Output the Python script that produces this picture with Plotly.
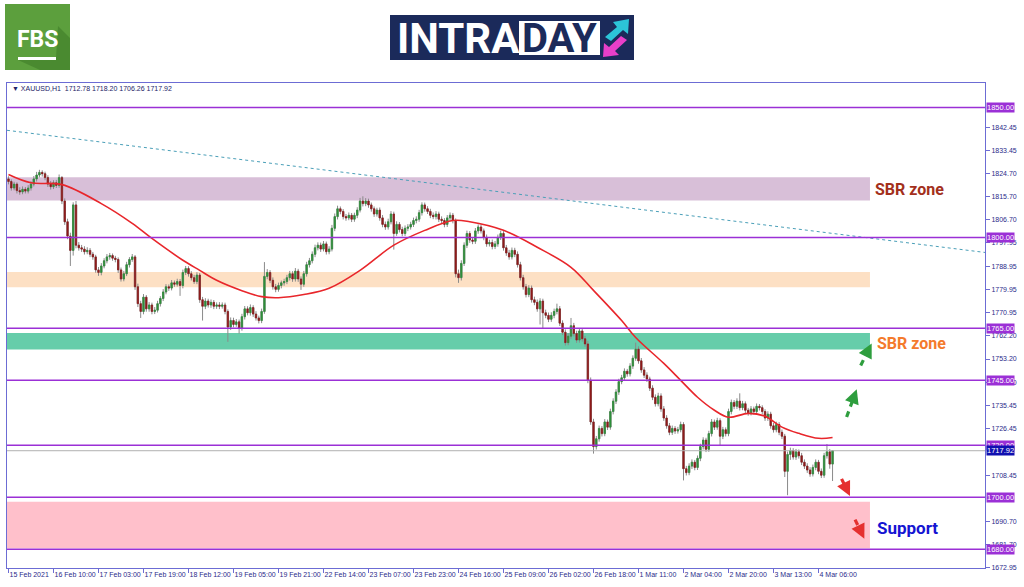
import plotly.graph_objects as go

# ---------------- data ----------------
o = [1822.5,1821.5,1819.0,1820.5,1818.0,1817.5,1818.5,1817.8,1819.0,1820.5,
     1822.5,1824.0,1825.0,1824.5,1823.0,1820.5,1819.5,1821.0,1820.0,1823.0,
     1814.0,1806.0,1800.5,1795.0,1812.5,1797.0,1796.0,1795.5,1794.5,1795.0,
     1793.5,1792.5,1787.5,1786.5,1789.0,1791.0,1792.5,1793.0,1792.0,1791.5,
     1787.5,1784.0,1786.0,1789.5,1791.5,1792.5,1781.0,1774.5,1771.5,1777.0,
     1772.5,1774.0,1771.5,1772.0,1774.5,1776.5,1779.0,1781.0,1780.5,1782.5,
     1782.0,1783.0,1781.5,1786.5,1788.0,1786.0,1784.5,1783.0,1785.5,1776.0,
     1773.5,1775.5,1774.0,1775.0,1773.5,1774.0,1773.5,1774.0,1771.5,1765.5,
     1768.0,1766.5,1767.5,1765.0,1769.5,1772.5,1771.0,1773.0,1770.5,1769.0,
     1768.0,1771.5,1785.0,1786.5,1783.5,1781.0,1780.0,1781.5,1782.5,1783.0,
     1784.5,1786.0,1784.0,1787.0,1784.0,1782.0,1786.0,1789.5,1791.0,1793.5,
     1796.0,1797.0,1795.5,1797.5,1794.5,1795.5,1803.5,1808.0,1811.0,1810.0,
     1808.0,1807.5,1808.5,1807.0,1808.5,1810.5,1814.0,1813.0,1814.0,1812.5,
     1811.0,1809.0,1810.5,1807.5,1805.0,1804.0,1806.0,1809.0,1801.5,1805.0,
     1803.0,1801.5,1803.5,1804.0,1805.0,1806.5,1807.0,1809.5,1812.5,1811.0,
     1810.0,1808.5,1808.0,1809.0,1807.0,1806.5,1805.0,1807.5,1808.5,1806.5,
     1786.0,1784.5,1790.0,1797.0,1801.5,1799.0,1798.5,1802.5,1804.0,1802.5,
     1800.0,1797.5,1798.0,1796.5,1797.5,1800.0,1801.5,1796.0,1794.0,1792.5,
     1795.0,1793.5,1789.5,1784.5,1781.0,1778.0,1780.5,1776.0,1775.0,1772.5,
     1775.5,1771.0,1770.0,1768.5,1770.0,1771.5,1772.5,1767.0,1763.5,1759.5,
     1762.0,1766.0,1763.0,1760.5,1764.0,1761.0,1759.0,1745.0,1729.0,1719.5,
     1722.5,1726.5,1724.5,1729.0,1727.0,1733.0,1737.0,1740.5,1744.5,1746.0,
     1748.5,1747.5,1750.5,1753.5,1757.0,1752.5,1749.0,1747.0,1745.5,1742.0,
     1738.5,1736.0,1739.0,1734.0,1730.5,1727.5,1725.0,1726.5,1725.5,1726.0,
     1728.0,1711.0,1709.5,1712.0,1713.5,1711.5,1715.0,1719.5,1722.0,1718.5,
     1724.5,1729.0,1727.0,1729.5,1723.5,1726.0,1724.5,1733.0,1736.5,1735.0,
     1737.0,1734.5,1736.0,1733.5,1732.5,1734.0,1733.0,1735.0,1734.5,1733.0,
     1730.5,1732.0,1727.5,1726.0,1728.0,1725.0,1723.5,1710.0,1716.5,1718.0,
     1715.5,1717.5,1716.0,1713.5,1712.0,1710.5,1709.0,1711.5,1713.5,1710.0,
     1708.5,1716.0,1717.5,1712.78]

h = [1823.5,1822.3,1821.4,1821.2,1819.3,1819.6,1819.4,1820.1,1821.6,1823.6,
     1825.2,1826.0,1825.8,1825.3,1823.9,1821.7,1822.0,1822.1,1824.2,1823.6,
     1815.0,1807.2,1801.8,1813.5,1814.0,1798.2,1797.1,1796.6,1796.2,1795.9,
     1794.4,1793.3,1788.6,1790.1,1792.0,1793.6,1794.0,1793.8,1792.9,1792.3,
     1788.4,1787.1,1790.6,1792.4,1793.6,1793.2,1782.2,1775.6,1778.2,1777.8,
     1775.1,1774.9,1773.2,1775.6,1777.4,1780.1,1782.0,1781.9,1783.6,1783.4,
     1784.1,1784.0,1787.6,1789.0,1788.9,1787.0,1785.6,1786.6,1786.3,1777.1,
     1776.6,1776.4,1776.1,1775.9,1775.0,1775.1,1775.0,1774.9,1772.3,1769.2,
     1769.1,1768.6,1768.4,1770.6,1773.6,1773.5,1774.2,1773.9,1771.6,1769.9,
     1772.6,1790.5,1787.8,1787.4,1784.6,1782.1,1782.6,1783.4,1784.1,1785.6,
     1787.1,1787.0,1788.2,1787.9,1785.0,1787.1,1790.6,1792.1,1794.6,1797.2,
     1798.1,1798.0,1798.6,1798.4,1796.6,1804.8,1809.2,1812.2,1811.9,1810.9,
     1809.0,1809.6,1809.4,1809.5,1811.6,1815.2,1815.8,1815.1,1814.9,1813.4,
     1811.9,1811.4,1811.5,1808.6,1806.1,1807.2,1810.1,1809.9,1806.2,1805.9,
     1804.1,1804.6,1805.1,1806.0,1807.6,1808.1,1810.6,1813.5,1813.4,1812.0,
     1811.0,1809.6,1810.1,1809.9,1808.1,1807.4,1808.6,1809.6,1809.4,1807.3,
     1787.6,1791.2,1798.1,1802.6,1802.4,1800.1,1803.6,1805.0,1805.0,1803.4,
     1801.1,1799.1,1799.2,1798.6,1801.1,1802.6,1802.4,1797.1,1795.2,1796.1,
     1796.0,1794.6,1790.6,1785.6,1782.1,1781.6,1781.5,1777.2,1776.1,1776.6,
     1776.4,1772.2,1771.1,1771.2,1772.6,1774.5,1773.6,1768.1,1764.6,1763.1,
     1769.0,1767.1,1764.1,1765.1,1765.0,1762.1,1760.2,1746.1,1730.2,1723.6,
     1727.6,1727.4,1730.1,1729.9,1734.1,1738.1,1741.6,1745.6,1747.1,1749.6,
     1749.4,1751.6,1754.6,1759.5,1758.1,1753.6,1750.1,1748.1,1746.4,1743.1,
     1739.6,1740.2,1740.0,1735.1,1731.6,1728.6,1727.6,1727.4,1727.1,1729.1,
     1728.9,1712.1,1713.1,1714.6,1714.4,1716.1,1720.6,1723.1,1722.9,1725.6,
     1730.1,1729.9,1730.6,1730.4,1727.1,1726.9,1734.1,1737.6,1737.4,1738.1,
     1740.0,1737.1,1736.9,1734.4,1735.1,1734.9,1736.1,1735.9,1735.4,1733.9,
     1733.1,1732.9,1728.6,1729.1,1728.9,1726.1,1724.4,1717.6,1719.1,1718.9,
     1718.6,1718.4,1717.1,1714.6,1713.1,1711.6,1712.6,1714.6,1714.4,1711.1,
     1717.1,1720.5,1718.6,1718.20]

l = [1820.4,1818.0,1818.1,1816.9,1816.4,1816.6,1816.9,1816.9,1818.0,1819.6,
     1821.5,1823.1,1823.4,1822.0,1819.4,1818.4,1818.6,1819.0,1819.1,1812.8,
     1804.8,1799.3,1789.0,1793.0,1795.8,1794.9,1794.4,1793.4,1793.5,1792.4,
     1791.4,1786.4,1785.2,1785.4,1788.1,1790.0,1791.4,1791.0,1790.4,1786.3,
     1783.0,1783.1,1785.1,1788.4,1790.6,1779.8,1773.2,1769.0,1770.4,1771.4,
     1771.4,1770.4,1770.5,1771.1,1773.4,1775.5,1778.1,1779.4,1779.6,1781.0,
     1781.1,1777.5,1780.4,1785.5,1784.9,1783.4,1782.1,1782.0,1774.8,1768.0,
     1772.4,1773.0,1772.9,1772.4,1772.5,1772.4,1772.6,1770.4,1759.8,1764.4,
     1765.4,1765.6,1763.0,1764.1,1768.4,1770.0,1769.9,1769.4,1768.0,1766.9,
     1767.0,1770.6,1783.9,1782.4,1779.9,1778.9,1779.1,1780.4,1781.4,1782.0,
     1783.4,1782.9,1783.0,1782.9,1779.8,1781.0,1784.9,1788.4,1790.0,1792.4,
     1795.0,1794.4,1794.6,1793.4,1793.5,1794.6,1802.4,1806.9,1808.9,1806.9,
     1806.4,1806.6,1805.9,1806.0,1807.4,1809.6,1811.9,1812.0,1811.4,1809.9,
     1807.9,1808.0,1806.4,1803.9,1802.9,1803.0,1805.0,1795.3,1800.6,1801.9,
     1800.4,1800.5,1802.4,1803.0,1804.0,1805.4,1806.0,1808.4,1809.9,1809.0,
     1807.4,1807.0,1806.9,1805.9,1805.4,1803.9,1804.0,1806.4,1805.4,1784.6,
     1782.5,1783.4,1789.0,1795.9,1797.9,1797.4,1797.5,1801.4,1801.5,1798.9,
     1796.4,1796.5,1795.4,1795.5,1796.4,1799.0,1794.9,1792.9,1791.4,1791.5,
     1792.4,1788.4,1783.4,1779.9,1776.9,1777.0,1774.9,1773.9,1771.4,1766.5,
     1765.0,1768.9,1767.4,1767.5,1768.9,1770.4,1765.9,1762.4,1758.4,1758.5,
     1761.0,1761.9,1759.4,1759.5,1759.9,1757.9,1743.9,1727.9,1716.8,1718.4,
     1721.4,1723.4,1723.5,1725.9,1726.0,1731.9,1735.9,1739.4,1743.5,1745.0,
     1746.4,1746.5,1749.4,1752.5,1751.4,1747.9,1745.9,1744.4,1740.9,1737.4,
     1734.9,1735.0,1732.9,1729.4,1726.4,1723.9,1724.0,1724.4,1724.5,1725.0,
     1706.5,1708.4,1708.5,1710.9,1710.4,1710.5,1713.9,1718.4,1717.4,1717.5,
     1723.4,1725.9,1726.0,1720.0,1722.4,1723.4,1723.5,1731.9,1733.9,1734.0,
     1733.4,1733.5,1732.4,1731.4,1731.5,1731.9,1732.0,1733.4,1731.9,1729.4,
     1729.4,1726.4,1724.9,1725.0,1723.9,1722.4,1707.8,1700.8,1714.4,1714.5,
     1714.4,1714.9,1712.4,1710.9,1709.4,1707.9,1708.0,1710.4,1708.9,1707.4,
     1707.5,1714.9,1711.0,1706.26]

c = [1821.5,1819.0,1820.5,1818.0,1817.5,1818.5,1817.8,1819.0,1820.5,1822.5,
     1824.0,1825.0,1824.5,1823.0,1820.5,1819.5,1821.0,1820.0,1823.0,1814.0,
     1806.0,1800.5,1795.0,1812.5,1797.0,1796.0,1795.5,1794.5,1795.0,1793.5,
     1792.5,1787.5,1786.5,1789.0,1791.0,1792.5,1793.0,1792.0,1791.5,1787.5,
     1784.0,1786.0,1789.5,1791.5,1792.5,1781.0,1774.5,1771.5,1777.0,1772.5,
     1774.0,1771.5,1772.0,1774.5,1776.5,1779.0,1781.0,1780.5,1782.5,1782.0,
     1783.0,1781.5,1786.5,1788.0,1786.0,1784.5,1783.0,1785.5,1776.0,1773.5,
     1775.5,1774.0,1775.0,1773.5,1774.0,1773.5,1774.0,1771.5,1765.5,1768.0,
     1766.5,1767.5,1765.0,1769.5,1772.5,1771.0,1773.0,1770.5,1769.0,1768.0,
     1771.5,1785.0,1786.5,1783.5,1781.0,1780.0,1781.5,1782.5,1783.0,1784.5,
     1786.0,1784.0,1787.0,1784.0,1782.0,1786.0,1789.5,1791.0,1793.5,1796.0,
     1797.0,1795.5,1797.5,1794.5,1795.5,1803.5,1808.0,1811.0,1810.0,1808.0,
     1807.5,1808.5,1807.0,1808.5,1810.5,1814.0,1813.0,1814.0,1812.5,1811.0,
     1809.0,1810.5,1807.5,1805.0,1804.0,1806.0,1809.0,1801.5,1805.0,1803.0,
     1801.5,1803.5,1804.0,1805.0,1806.5,1807.0,1809.5,1812.5,1811.0,1810.0,
     1808.5,1808.0,1809.0,1807.0,1806.5,1805.0,1807.5,1808.5,1806.5,1786.0,
     1784.5,1790.0,1797.0,1801.5,1799.0,1798.5,1802.5,1804.0,1802.5,1800.0,
     1797.5,1798.0,1796.5,1797.5,1800.0,1801.5,1796.0,1794.0,1792.5,1795.0,
     1793.5,1789.5,1784.5,1781.0,1778.0,1780.5,1776.0,1775.0,1772.5,1775.5,
     1771.0,1770.0,1768.5,1770.0,1771.5,1772.5,1767.0,1763.5,1759.5,1762.0,
     1766.0,1763.0,1760.5,1764.0,1761.0,1759.0,1745.0,1729.0,1719.5,1722.5,
     1726.5,1724.5,1729.0,1727.0,1733.0,1737.0,1740.5,1744.5,1746.0,1748.5,
     1747.5,1750.5,1753.5,1757.0,1752.5,1749.0,1747.0,1745.5,1742.0,1738.5,
     1736.0,1739.0,1734.0,1730.5,1727.5,1725.0,1726.5,1725.5,1726.0,1728.0,
     1711.0,1709.5,1712.0,1713.5,1711.5,1715.0,1719.5,1722.0,1718.5,1724.5,
     1729.0,1727.0,1729.5,1723.5,1726.0,1724.5,1733.0,1736.5,1735.0,1737.0,
     1734.5,1736.0,1733.5,1732.5,1734.0,1733.0,1735.0,1734.5,1733.0,1730.5,
     1732.0,1727.5,1726.0,1728.0,1725.0,1723.5,1710.0,1716.5,1718.0,1715.5,
     1717.5,1716.0,1713.5,1712.0,1710.5,1709.0,1711.5,1713.5,1710.0,1708.5,
     1716.0,1717.5,1712.78,1717.92]

bar_index = list(range(len(c)))

# moving average (red line) at a few bars
ma_x = [0, 8, 19, 33, 44, 51, 62, 68, 74, 83, 90, 96, 105, 114, 125, 137, 148, 158,
        164, 176, 188, 200, 208, 218, 223, 233, 239, 245, 251, 256, 263, 269, 275,
        281, 288, 293]
ma_y = [1824.2, 1821.0, 1820.3, 1813.0, 1805.4, 1799.6, 1791.2, 1787.3, 1783.5,
        1779.5, 1777.2, 1776.8, 1778.0, 1780.4, 1787.3, 1797.0, 1802.7, 1806.5,
        1806.0, 1802.7, 1796.2, 1788.5, 1779.6, 1768.0, 1761.5, 1751.5, 1745.0,
        1738.5, 1733.5, 1730.8, 1732.3, 1731.2, 1727.0, 1724.6, 1722.7, 1723.0]

# dotted trend line (start / end)
trend_x = [-0.53, 347.2]
trend_y = [1841.2, 1794.2]

x_tick_pos = [0, 16, 32, 48, 64, 80, 96, 112, 128, 144, 160, 176, 192, 208, 224,
              240, 256, 272, 288]
x_tick_text = ['15 Feb 2021', '16 Feb 10:00', '17 Feb 03:00', '17 Feb 19:00',
               '18 Feb 12:00', '19 Feb 05:00', '19 Feb 21:00', '22 Feb 14:00',
               '23 Feb 07:00', '23 Feb 23:00', '24 Feb 16:00', '25 Feb 09:00',
               '26 Feb 02:00', '26 Feb 18:00', '1 Mar 11:00', '2 Mar 04:00',
               '2 Mar 20:00', '3 Mar 13:00', '4 Mar 06:00']

# axis prices that are visible in the picture (the ones fully covered by level tags are left out)
y_tick_vals = [1842.45, 1833.45, 1824.70, 1815.70, 1806.70, 1797.95, 1788.95,
               1779.95, 1770.95, 1762.20, 1753.20, 1744.20, 1735.45, 1726.45,
               1708.45, 1690.70, 1681.70, 1672.95]

levels = [1850.00, 1800.00, 1765.00, 1745.00, 1720.00, 1700.00, 1680.00]
last_price = 1717.92

zone_low = [1814.2, 1780.8, 1756.9, 1680.4]
zone_high = [1823.1, 1786.7, 1763.2, 1698.3]
zone_color = ['#d8bfd8', '#fde0c4', '#66cdaa', '#ffc0cb']

label_text = ['SBR zone', 'SBR zone', 'Support']
label_x = [307.4, 308.1, 308.1]
label_y = [1818.5, 1759.2, 1688.1]
label_color = ['#a3301c', '#f47a2c', '#1414d2']

arrow_tail = [(298.0, 1730.9), (303.0, 1750.7), (296.2, 1707.1), (301.0, 1691.4)]
arrow_tip = [(301.6, 1741.6), (306.9, 1759.2), (299.2, 1700.5), (304.3, 1684.1)]
arrow_color = ['#2e9e3e', '#2e9e3e', '#e53030', '#e53030']

# ---------------- figure ----------------
X_RANGE = [-0.53, 347.2]
Y_RANGE = [1672.8, 1859.4]
ML, MR, MT, MB = 7, 39, 83, 19
W, H = 1024, 587
PW, PH = W - ML - MR, H - MT - MB


def px(xp):
    return (xp - ML) / PW


def py(yp):
    return (H - MB - yp) / PH


AXC = '#6c6cd4'
TXT = '#2b2b8a'
PURPLE = '#9b30d6'

fig = go.Figure()

# wicks (gray)
fig.add_trace(go.Candlestick(
    x=bar_index, open=o, high=h, low=l, close=c,
    increasing=dict(line=dict(color='#8a8a8a', width=1), fillcolor='#8a8a8a'),
    decreasing=dict(line=dict(color='#8a8a8a', width=1), fillcolor='#8a8a8a'),
    whiskerwidth=0, showlegend=False, hoverinfo='skip'))

# bodies (coloured)
body_hi = [max(a, b) for a, b in zip(o, c)]
body_lo = [min(a, b) for a, b in zip(o, c)]
fig.add_trace(go.Candlestick(
    x=bar_index, open=o, high=body_hi, low=body_lo, close=c,
    increasing=dict(line=dict(color='#2f8f3a', width=0.6), fillcolor='#2f8f3a'),
    decreasing=dict(line=dict(color='#8e1b1b', width=0.6), fillcolor='#8e1b1b'),
    whiskerwidth=0, showlegend=False))

# moving average
fig.add_trace(go.Scatter(x=ma_x, y=ma_y, mode='lines',
                         line=dict(color='#e8262b', width=1.6, shape='spline', smoothing=1.0),
                         showlegend=False, hoverinfo='skip'))

# trend line
fig.add_trace(go.Scatter(x=trend_x, y=trend_y, mode='lines',
                         line=dict(color='#4a9fb8', width=1, dash='dot'),
                         showlegend=False, hoverinfo='skip'))

shapes = []
# zones
for lo, hi, col in zip(zone_low, zone_high, zone_color):
    shapes.append(dict(type='rect', xref='x', yref='y', x0=X_RANGE[0], x1=306.3,
                       y0=lo, y1=hi, fillcolor=col, line=dict(width=0), layer='below'))
# level lines
for v in levels:
    shapes.append(dict(type='line', xref='paper', yref='y', x0=0, x1=1, y0=v, y1=v,
                       line=dict(color=PURPLE, width=1.5)))
shapes.append(dict(type='line', xref='paper', yref='y', x0=0, x1=1,
                   y0=last_price, y1=last_price, line=dict(color='#b0b0b0', width=1)))

annotations = []
# dashed arrows
for (tx, ty), (hx, hy), col in zip(arrow_tail, arrow_tip, arrow_color):
    mx = tx + 0.72 * (hx - tx)
    my = ty + 0.72 * (hy - ty)
    shapes.append(dict(type='line', xref='x', yref='y', x0=tx, y0=ty, x1=mx, y1=my,
                       line=dict(color=col, width=3.2, dash='6px,5px')))
    annotations.append(dict(x=hx, y=hy, xref='x', yref='y', axref='x', ayref='y',
                            ax=tx + 0.62 * (hx - tx), ay=ty + 0.62 * (hy - ty),
                            showarrow=True, arrowhead=2, arrowsize=1.2, arrowwidth=2.4,
                            arrowcolor=col, text=''))

# zone labels
for t, xx, yy, col in zip(label_text, label_x, label_y, label_color):
    annotations.append(dict(x=xx, y=yy, xref='x', yref='y', text=t, showarrow=False,
                            xanchor='left', yanchor='middle',
                            font=dict(family='Roboto', size=16 if t != 'Support' else 17,
                                      color=col, weight='bold')))

# level price labels on the axis
for v in levels:
    annotations.append(dict(x=1, y=v, xref='paper', yref='y', text=f'{v:.2f}',
                            showarrow=False, xanchor='left', yanchor='middle', xshift=1,
                            bgcolor=PURPLE, borderpad=0,
                            font=dict(family='Liberation Sans', size=7.5, color='white')))
annotations.append(dict(x=1, y=last_price, xref='paper', yref='y', text=f'{last_price:.2f}',
                        showarrow=False, xanchor='left', yanchor='middle', xshift=1,
                        bgcolor='#1010b0', borderpad=0,
                        font=dict(family='Liberation Sans', size=7.5, color='white')))

# chart title
annotations.append(dict(x=px(10), y=py(89), xref='paper', yref='paper', showarrow=False,
                        xanchor='left', yanchor='middle',
                        text='▼ XAUUSD,H1  1712.78 1718.20 1706.26 1717.92',
                        font=dict(family='Liberation Sans', size=7, color='#222266')))

# ---- header logos ----
# FBS
shapes.append(dict(type='rect', xref='paper', yref='paper', x0=px(5), x1=px(70),
                   y0=py(70), y1=py(4), fillcolor='#5c9f3d', line=dict(width=0)))
shapes.append(dict(type='path', xref='paper', yref='paper',
                   path=f'M {px(58)} {py(26)} L {px(70)} {py(38)} L {px(70)} {py(70)} '
                        f'L {px(40)} {py(70)} L {px(18)} {py(60)} L {px(56)} {py(58)} Z',
                   fillcolor='#4a8a30', line=dict(width=0)))
shapes.append(dict(type='rect', xref='paper', yref='paper', x0=px(18), x1=px(56),
                   y0=py(60), y1=py(57), fillcolor='white', line=dict(width=0)))
annotations.append(dict(x=px(37), y=py(39), xref='paper', yref='paper', text='FBS',
                        showarrow=False, xanchor='center', yanchor='middle',
                        font=dict(family='Roboto', size=23, color='white', weight='bold')))
# INTRADAY
shapes.append(dict(type='rect', xref='paper', yref='paper', x0=px(390), x1=px(634),
                   y0=py(60), y1=py(15), fillcolor='#1b2a5a', line=dict(width=0)))
shapes.append(dict(type='rect', xref='paper', yref='paper', x0=px(519), x1=px(600),
                   y0=py(55), y1=py(21), fillcolor='white', line=dict(width=0)))
annotations.append(dict(x=px(458), y=py(38.5), xref='paper', yref='paper', text='INTRA',
                        showarrow=False, xanchor='center', yanchor='middle',
                        font=dict(family='Roboto', size=42, color='white', weight='bold')))
annotations.append(dict(x=px(559.5), y=py(38.5), xref='paper', yref='paper', text='DAY',
                        showarrow=False, xanchor='center', yanchor='middle',
                        font=dict(family='Roboto', size=40, color='#1b2a5a', weight='bold')))
shapes.append(dict(type='path', xref='paper', yref='paper',
                   path=f'M {px(605)} {py(37)} L {px(617)} {py(27)} L {px(613)} {py(22)} '
                        f'L {px(629)} {py(19)} L {px(628)} {py(34)} L {px(623)} {py(30)} '
                        f'L {px(611)} {py(41)} Z',
                   fillcolor='#2cc4d8', line=dict(width=0)))
shapes.append(dict(type='path', xref='paper', yref='paper',
                   path=f'M {px(627)} {py(40)} L {px(615)} {py(51)} L {px(619)} {py(55)} '
                        f'L {px(603)} {py(57)} L {px(604)} {py(43)} L {px(609)} {py(47)} '
                        f'L {px(621)} {py(36)} Z',
                   fillcolor='#e83fc9', line=dict(width=0)))

fig.update_layout(
    width=W, height=H,
    margin=dict(l=ML, r=MR, t=MT, b=MB, pad=0, autoexpand=False),
    paper_bgcolor='white', plot_bgcolor='white',
    shapes=shapes, annotations=annotations,
    showlegend=False,
    xaxis=dict(range=X_RANGE, showgrid=False, zeroline=False, showline=True,
               linecolor=AXC, linewidth=1, mirror=True, ticks='outside', ticklen=4,
               tickcolor=AXC, tickvals=x_tick_pos, ticktext=x_tick_text,
               ticklabelposition='outside right', tickangle=0, automargin=False,
               tickfont=dict(family='Liberation Sans', size=7, color=TXT),
               rangeslider=dict(visible=False), fixedrange=True),
    yaxis=dict(range=Y_RANGE, side='right', showgrid=False, zeroline=False, showline=True,
               linecolor=AXC, linewidth=1, mirror=True, ticks='outside', ticklen=4,
               tickcolor=AXC, tickvals=y_tick_vals, automargin=False,
               ticktext=[f'{v:.2f}' for v in y_tick_vals],
               tickfont=dict(family='Liberation Sans', size=7, color=TXT), fixedrange=True),
)

fig.write_html('out.html', config={'displayModeBar': False},
               post_script="document.body.style.margin='0px';document.body.style.padding='0px';"
                           "document.body.style.overflow='hidden';")
